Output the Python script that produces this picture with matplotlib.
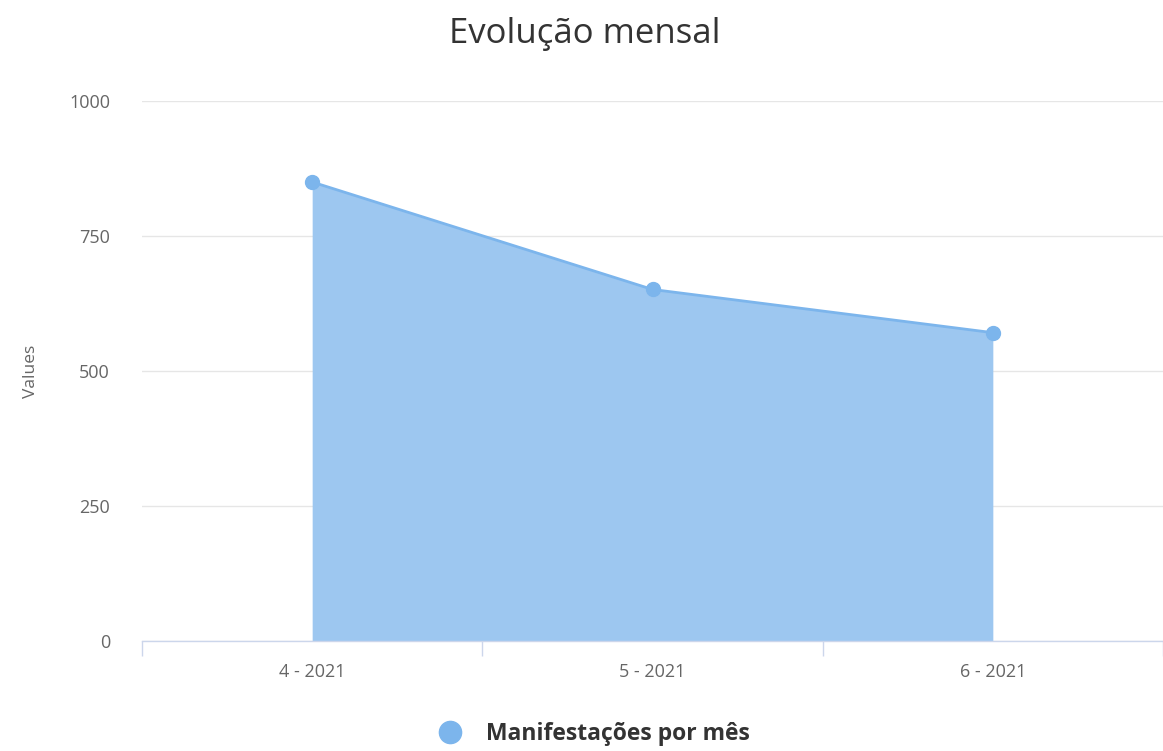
import matplotlib.pyplot as plt
from matplotlib.lines import Line2D

plt.rcParams["font.family"] = ["Open Sans", "DejaVu Sans"]

# dados
months = ["4 - 2021", "5 - 2021", "6 - 2021"]
counts = [850, 651, 571]
y_ticks = [0, 250, 500, 750, 1000]

line_color = "#7cb5ec"
fill_color = "#9dc7f0"
label_color = "#666666"

fig = plt.figure(figsize=(11.63, 7.51), dpi=100)
ax = fig.add_axes([0.1221, 0.1465, 0.8779, 0.719])

x = list(range(len(months)))
ax.fill_between(x, counts, 0, color=fill_color, linewidth=0, zorder=2)
ax.plot(x, counts, color=line_color, linewidth=2, zorder=3)
ax.plot(x, counts, "o", color=line_color, markersize=10, zorder=4)

ax.set_xlim(-0.5, 2.485)
ax.set_ylim(0, 1000)

ax.set_yticks(y_ticks)
ax.set_yticklabels([str(v) for v in y_ticks])
ax.grid(axis="y", color="#e6e6e6", linewidth=1, zorder=0)
ax.tick_params(axis="y", length=0, pad=23, labelsize=13, labelcolor=label_color)

ax.set_xticks(x)
ax.set_xticklabels(months)
ax.tick_params(axis="x", which="major", length=0, pad=16, labelsize=13,
               labelcolor=label_color)
ax.set_xticks([-0.5, 0.5, 1.5, 2.5], minor=True)
ax.tick_params(axis="x", which="minor", length=11, width=1, color="#ccd6eb")

for side in ["top", "right", "left"]:
    ax.spines[side].set_visible(False)
ax.spines["bottom"].set_color("#ccd6eb")
ax.spines["bottom"].set_linewidth(1)
ax.set_axisbelow(True)

ax.set_ylabel("Values", fontsize=12.5, color=label_color, labelpad=22)

fig.text(0.503, 0.955, "Evolução mensal", ha="center", va="center",
         fontsize=25, color="#333333")

handle = Line2D([], [], marker="o", linestyle="none", color=line_color,
                markersize=16)
fig.legend([handle], ["Manifestações por mês"], loc="center",
           bbox_to_anchor=(0.506, 0.022), frameon=False,
           prop={"size": 16.5, "weight": "bold"}, labelcolor="#333333",
           handletextpad=0.6)

fig.savefig("out.png", dpi=100)
